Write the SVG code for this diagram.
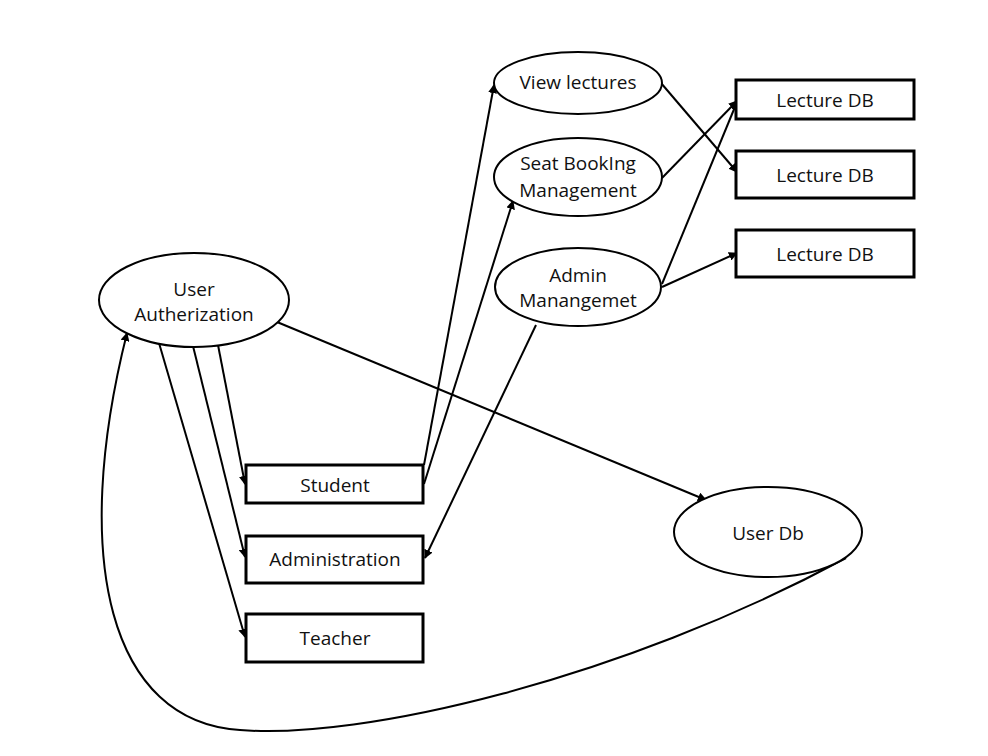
<svg xmlns="http://www.w3.org/2000/svg" width="988" height="756" viewBox="0 0 988 756">
<defs>
<marker id="ah" viewBox="0 0 10 10" refX="9" refY="5" markerWidth="9" markerHeight="9" markerUnits="userSpaceOnUse" orient="auto">
<path d="M0,0 L10,5 L0,10 z" fill="#000"/>
</marker>
<style>
.el{fill:#fff;stroke:#000;stroke-width:2}
.bx{fill:#fff;stroke:#000;stroke-width:3}
.t{font-family:"Open Sans","Liberation Sans",sans-serif;font-size:19px;fill:#111;text-anchor:middle;dominant-baseline:central}
.c{fill:none;stroke:#000;stroke-width:2;marker-end:url(#ah)}
.n{fill:none;stroke:#000;stroke-width:2}
</style>
</defs>
<rect width="988" height="756" fill="#fff"/>
<g id="connectors">
<line class="c" x1="218" y1="345" x2="245" y2="484"/>
<line class="c" x1="193" y1="346" x2="245" y2="557"/>
<line class="c" x1="159" y1="343" x2="245" y2="637"/>
<line class="c" x1="277" y1="322" x2="706" y2="500"/>
<line class="c" x1="424" y1="465" x2="494" y2="85"/>
<line class="c" x1="424" y1="484" x2="513" y2="201"/>
<line class="c" x1="536" y1="325" x2="425" y2="558"/>
<line class="c" x1="661" y1="83" x2="737" y2="172"/>
<line class="c" x1="662" y1="178" x2="737" y2="101"/>
<line class="c" x1="662" y1="284" x2="737" y2="102"/>
<line class="c" x1="662" y1="287" x2="737" y2="253"/>
<path class="c" d="M846,558 C620,680 360,740 240,730 C110,722 70,560 127,333"/>
</g>
<g id="user-auth"><ellipse class="el" cx="194" cy="300" rx="95" ry="47"/><text class="t" x="194" y="289">User</text><text class="t" x="194" y="314">Autherization</text></g>
<g id="view-lectures"><ellipse class="el" cx="578" cy="83" rx="84" ry="31"/><text class="t" x="578" y="82">View lectures</text></g>
<g id="seat-booking"><ellipse class="el" cx="578" cy="177" rx="84" ry="39"/><text class="t" x="578" y="163">Seat BookIng</text><text class="t" x="578" y="190">Management</text></g>
<g id="admin-mgmt"><ellipse class="el" cx="578" cy="287" rx="83" ry="39"/><text class="t" x="578" y="275">Admin</text><text class="t" x="578" y="300">Manangemet</text></g>
<g id="lecture-db-1"><rect class="bx" x="736" y="80" width="178" height="39"/><text class="t" x="825" y="100">Lecture DB</text></g>
<g id="lecture-db-2"><rect class="bx" x="736" y="151" width="178" height="47"/><text class="t" x="825" y="175">Lecture DB</text></g>
<g id="lecture-db-3"><rect class="bx" x="736" y="230" width="178" height="47"/><text class="t" x="825" y="254">Lecture DB</text></g>
<g id="student"><rect class="bx" x="246" y="465" width="177" height="38"/><text class="t" x="335" y="485">Student</text></g>
<g id="administration"><rect class="bx" x="246" y="536" width="177" height="47"/><text class="t" x="335" y="559">Administration</text></g>
<g id="teacher"><rect class="bx" x="246" y="614" width="177" height="48"/><text class="t" x="335" y="638">Teacher</text></g>
<g id="user-db"><ellipse class="el" cx="768" cy="532" rx="94" ry="45"/><text class="t" x="768" y="533">User Db</text></g>
</svg>
